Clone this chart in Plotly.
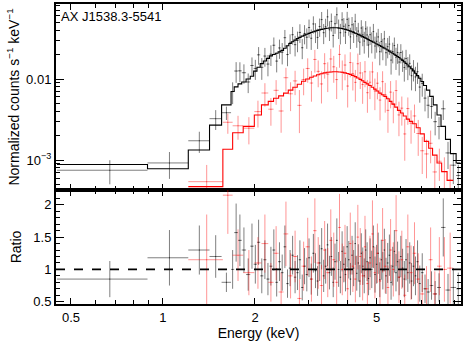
import numpy as np
import plotly.graph_objects as go
from plotly.subplots import make_subplots

# black spectrum: bin edges (keV), model (counts/s/keV), data/model ratio and its error
black_edges = [0.45, 0.89, 1.21, 1.42, 1.555, 1.67, 1.71, 1.76, 1.81, 1.87, 1.93, 1.98,
               2.03, 2.08, 2.13, 2.18, 2.23, 2.28, 2.33, 2.38, 2.43, 2.48, 2.53, 2.58,
               2.63, 2.68, 2.73, 2.78, 2.83, 2.88, 2.93, 2.98, 3.03, 3.08, 3.13, 3.18,
               3.23, 3.28, 3.33, 3.38, 3.43, 3.48, 3.53, 3.58, 3.63, 3.68, 3.73, 3.78,
               3.83, 3.88, 3.93, 3.98, 4.03, 4.08, 4.13, 4.18, 4.23, 4.28, 4.33, 4.38,
               4.43, 4.48, 4.53, 4.58, 4.63, 4.68, 4.73, 4.79, 4.85, 4.91, 4.97, 5.03,
               5.09, 5.15, 5.21, 5.27, 5.33, 5.40, 5.47, 5.54, 5.61, 5.68, 5.75, 5.82,
               5.89, 5.96, 6.04, 6.12, 6.20, 6.28, 6.37, 6.46, 6.55, 6.65, 6.75, 6.86,
               6.98, 7.12, 7.28, 7.46, 7.66, 7.88, 8.12, 8.40, 8.72, 9.10, 9.40]
black_model = [8.8e-4, 7.8e-4, 1.33e-3, 2.7e-3, 4.8e-3, 7.0e-3, 8.0e-3, 8.7e-3, 9.2e-3,
               0.0100, 0.0108, 0.0125, 0.0140, 0.0155, 0.0167, 0.0180, 0.0193, 0.0201,
               0.0208, 0.0216, 0.0226, 0.0240, 0.0257, 0.0274, 0.0289, 0.0302, 0.0315,
               0.0327, 0.0338, 0.0348, 0.0357, 0.0366, 0.0375, 0.0383, 0.0391, 0.0398,
               0.0404, 0.0410, 0.0415, 0.0420, 0.0424, 0.0427, 0.0429, 0.0430, 0.0430,
               0.0429, 0.0427, 0.0424, 0.0420, 0.0415, 0.0410, 0.0404, 0.0397, 0.0390,
               0.0383, 0.0376, 0.0369, 0.0362, 0.0355, 0.0348, 0.0341, 0.0334, 0.0327,
               0.0320, 0.0313, 0.0306, 0.0299, 0.0292, 0.0285, 0.0278, 0.0271, 0.0265,
               0.0259, 0.0253, 0.0247, 0.0241, 0.0235, 0.0228, 0.0221, 0.0214, 0.0208,
               0.0202, 0.0196, 0.0190, 0.0184, 0.0177, 0.0170, 0.0163, 0.0156, 0.0149,
               0.0142, 0.0134, 0.0126, 0.0118, 0.0110, 0.0102, 0.0093, 0.0083, 0.0073,
               0.0061, 0.0048, 0.0036, 0.0026, 0.0018, 0.0012, 0.00092]
black_ratio = [0.85, 1.18, 1.30, 1.20, 0.80, 1.00, 1.57, 1.45, 1.30, 0.92, 1.36, 1.08,
               1.42, 0.90, 1.15, 0.85, 1.05, 1.30, 0.80, 1.12, 0.95, 1.35, 0.78, 1.02,
               1.22, 0.88, 0.95, 1.15, 0.72, 1.05, 0.92, 1.18, 0.85, 1.25, 0.98, 0.82,
               1.10, 1.32, 0.90, 1.05, 1.38, 0.95, 1.20, 0.80, 1.12, 1.45, 1.00, 0.88,
               1.28, 1.08, 0.92, 1.35, 1.15, 0.85, 1.22, 1.02, 1.40, 0.94, 1.10, 0.82,
               1.25, 1.05, 0.90, 1.30, 1.12, 0.86, 1.18, 1.00, 1.35, 0.92, 1.08, 1.25,
               0.84, 1.15, 0.98, 1.30, 0.90, 1.10, 1.22, 0.80, 1.05, 1.28, 0.95, 1.12,
               0.88, 1.20, 1.02, 0.85, 1.15, 0.95, 1.10, 0.82, 1.05, 0.90, 1.12, 0.78,
               0.95, 0.70, 0.65, 0.75, 0.62, 0.72, 1.65, 0.68, 0.72, 0.70]
black_ratio_err = [0.28, 0.43, 0.38, 0.33, 0.15, 0.30, 0.45, 0.40, 0.35, 0.25, 0.35, 0.30,
                   0.35, 0.27, 0.30, 0.25, 0.30, 0.32, 0.22, 0.30, 0.28, 0.33, 0.22, 0.28,
                   0.30, 0.25, 0.27, 0.30, 0.20, 0.28, 0.26, 0.30, 0.24, 0.30, 0.27, 0.23,
                   0.28, 0.32, 0.25, 0.27, 0.33, 0.26, 0.30, 0.23, 0.28, 0.34, 0.27, 0.25,
                   0.31, 0.28, 0.26, 0.32, 0.29, 0.25, 0.30, 0.28, 0.33, 0.27, 0.29, 0.25,
                   0.31, 0.29, 0.27, 0.32, 0.30, 0.26, 0.30, 0.29, 0.33, 0.28, 0.30, 0.32,
                   0.27, 0.31, 0.29, 0.33, 0.28, 0.31, 0.32, 0.27, 0.30, 0.33, 0.29, 0.31,
                   0.28, 0.32, 0.30, 0.28, 0.32, 0.30, 0.32, 0.28, 0.31, 0.30, 0.33, 0.28,
                   0.30, 0.22, 0.20, 0.22, 0.20, 0.22, 0.45, 0.25, 0.30, 0.25]

# red spectrum
red_edges = [1.21, 1.57, 1.69, 1.83, 1.99, 2.10, 2.21, 2.30, 2.39, 2.48, 2.57, 2.66,
             2.75, 2.84, 2.93, 3.02, 3.10, 3.18, 3.26, 3.34, 3.42, 3.50, 3.58, 3.66,
             3.74, 3.82, 3.90, 3.98, 4.06, 4.14, 4.22, 4.30, 4.38, 4.46, 4.54, 4.62,
             4.71, 4.80, 4.89, 4.98, 5.08, 5.18, 5.28, 5.39, 5.50, 5.61, 5.73, 5.85,
             5.98, 6.11, 6.25, 6.40, 6.56, 6.74, 6.94, 7.16, 7.40, 7.62, 7.88, 8.16,
             8.50, 8.90]
red_model = [4.7e-4, 1.36e-3, 2.17e-3, 2.6e-3, 3.6e-3, 4.8e-3, 5.3e-3, 5.8e-3, 6.2e-3,
             6.7e-3, 7.3e-3, 7.9e-3, 8.6e-3, 9.4e-3, 0.0100, 0.0105, 0.0109, 0.0113,
             0.0116, 0.0119, 0.0121, 0.0122, 0.0123, 0.0123, 0.0122, 0.0121, 0.0119,
             0.0117, 0.0114, 0.0111, 0.0107, 0.0103, 0.0099, 0.0095, 0.0091, 0.0087,
             0.0083, 0.0079, 0.0075, 0.0071, 0.0067, 0.0064, 0.0061, 0.0057, 0.0053,
             0.0049, 0.0045, 0.0041, 0.0038, 0.0035, 0.0032, 0.0030, 0.0028, 0.0025,
             0.0021, 0.0017, 0.00140, 0.00115, 0.00092, 0.00072, 0.00056]
red_ratio = [1.15, 2.15, 1.22, 0.95, 1.10, 1.40, 0.80, 1.25, 0.65, 1.55, 0.90, 1.20,
             0.55, 1.05, 1.35, 0.85, 1.60, 1.10, 0.75, 1.30, 0.95, 1.45, 1.15, 0.80,
             1.65, 1.00, 1.25, 0.70, 1.40, 1.05, 0.85, 1.50, 1.20, 0.90, 1.35, 0.78,
             1.10, 1.55, 0.95, 1.25, 0.82, 1.45, 1.05, 0.72, 1.30, 1.00, 1.60, 0.88,
             1.15, 0.60, 1.35, 0.95, 1.25, 0.85, 0.62, 0.70, 1.15, 0.62, 1.05, 1.00,
             1.02]
red_ratio_err = [0.70, 0.60, 0.40, 0.35, 0.40, 0.45, 0.30, 0.42, 0.30, 0.50, 0.35, 0.40,
                 0.30, 0.38, 0.45, 0.35, 0.50, 0.40, 0.32, 0.45, 0.38, 0.48, 0.42, 0.34,
                 0.52, 0.40, 0.44, 0.32, 0.48, 0.40, 0.36, 0.50, 0.44, 0.38, 0.48, 0.34,
                 0.42, 0.52, 0.40, 0.46, 0.36, 0.50, 0.42, 0.34, 0.48, 0.42, 0.55, 0.40,
                 0.45, 0.32, 0.50, 0.42, 0.48, 0.40, 0.30, 0.35, 0.50, 0.35, 0.45, 0.50,
                 0.55]

FONT = "Liberation Sans, Arial, sans-serif"
BLACK_ERR = "rgba(0,0,0,0.5)"
RED_ERR = "rgba(255,0,0,0.42)"

fig = make_subplots(rows=2, cols=1, shared_xaxes=True, vertical_spacing=0,
                    row_heights=[0.62, 0.38])


def add_spectrum(edges, model, ratio, ratio_err, err_color, line_color):
    e = np.array(edges)
    m = np.array(model)
    r = np.array(ratio)
    re = np.array(ratio_err)
    centre = (e[:-1] + e[1:]) / 2
    half = (e[1:] - e[:-1]) / 2
    # data points in the top panel
    fig.add_trace(go.Scatter(
        x=centre, y=r * m, mode="markers",
        marker=dict(size=1, color=err_color),
        error_x=dict(type="data", array=half, width=0, thickness=1, color=err_color),
        error_y=dict(type="data", array=re * m, width=0, thickness=1, color=err_color),
        showlegend=False), row=1, col=1)
    # ratio panel
    fig.add_trace(go.Scatter(
        x=centre, y=r, mode="markers",
        marker=dict(size=1, color=err_color),
        error_x=dict(type="data", array=half, width=0, thickness=1, color=err_color),
        error_y=dict(type="data", array=re, width=0, thickness=1, color=err_color),
        showlegend=False), row=2, col=1)
    # folded model as a step line
    fig.add_trace(go.Scatter(
        x=e, y=list(m) + [m[-1]], mode="lines", line_shape="hv",
        line=dict(color=line_color, width=1.1), showlegend=False), row=1, col=1)


add_spectrum(black_edges, black_model, black_ratio, black_ratio_err, BLACK_ERR, "black")
add_spectrum(red_edges, red_model, red_ratio, red_ratio_err, RED_ERR, "red")

fig.add_hline(y=1, line=dict(color="black", width=1.6, dash="dash"), row=2, col=1)

axis_style = dict(showline=True, linecolor="black", linewidth=2, mirror="ticks",
                  ticks="inside", tickcolor="black", tickwidth=1.2, showgrid=False,
                  zeroline=False, automargin=False,
                  tickfont=dict(family=FONT, size=13, color="black"))

x_minor = [0.6, 0.7, 0.8, 0.9, 3, 4, 6, 7, 8, 9]
fig.update_xaxes(type="log", range=[-0.35, 0.975], tickvals=[0.5, 1, 2, 5],
                 ticktext=["0.5", "1", "2", "5"], ticklen=6,
                 minor=dict(tickvals=x_minor, ticks="inside", ticklen=4,
                            tickcolor="black", showgrid=False),
                 **axis_style)
fig.update_xaxes(showticklabels=False, row=1, col=1)
fig.update_xaxes(title=dict(text="Energy (keV)", font=dict(family=FONT, size=14, color="black"),
                            standoff=2), row=2, col=1)

y_minor = [5e-4, 6e-4, 7e-4, 8e-4, 9e-4, 2e-3, 3e-3, 4e-3, 5e-3, 6e-3, 7e-3, 8e-3, 9e-3,
           0.02, 0.03, 0.04, 0.05, 0.06, 0.07, 0.08]
fig.update_yaxes(type="log", range=[-3.37, -1.074], tickvals=[1e-3, 1e-2],
                 ticktext=["10<sup>−3</sup>", "0.01"], ticklen=8,
                 minor=dict(tickvals=y_minor, ticks="inside", ticklen=4,
                            tickcolor="black", showgrid=False),
                 title=dict(text="Normalized counts s<sup>−1</sup> keV<sup>−1</sup>",
                            font=dict(family=FONT, size=14, color="black"), standoff=3),
                 row=1, col=1, **axis_style)
fig.update_yaxes(range=[0.464, 2.23], tickvals=[0.5, 1, 1.5, 2],
                 ticktext=["0.5", "1", "1.5", "2"], ticklen=8,
                 minor=dict(dtick=0.1, ticks="inside", ticklen=4,
                            tickcolor="black", showgrid=False),
                 title=dict(text="Ratio", font=dict(family=FONT, size=14, color="black"),
                            standoff=8),
                 row=2, col=1, **axis_style)

fig.add_annotation(text="AX J1538.3-5541", xref="paper", yref="paper", x=0.008, y=0.99,
                   xanchor="left", yanchor="top", showarrow=False,
                   font=dict(family=FONT, size=13, color="black"))

fig.update_layout(width=463, height=347, margin=dict(l=56, r=2, t=4, b=43),
                  paper_bgcolor="white", plot_bgcolor="white")

# the page's default body margin would shift the figure by 8 px
fig.write_html("out.html", config={"displayModeBar": False},
               post_script="document.body.style.margin='0';")
